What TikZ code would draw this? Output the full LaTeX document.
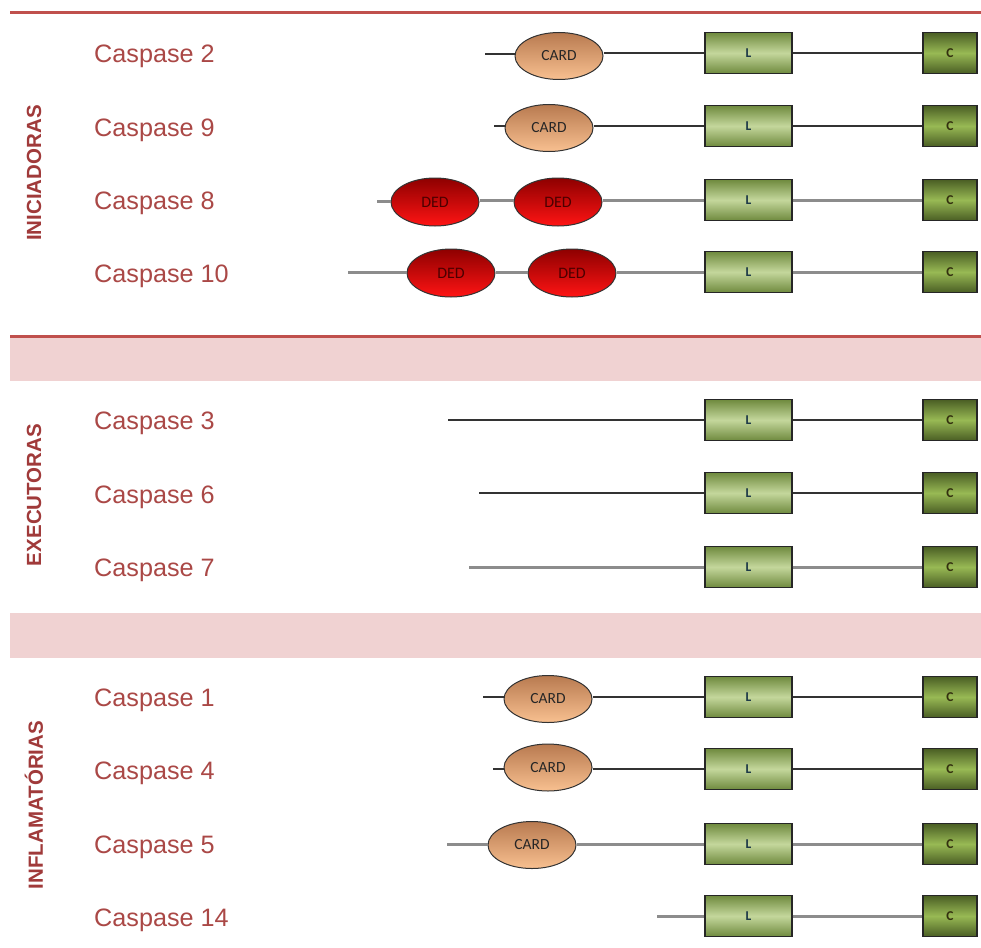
\documentclass[tikz,border=0pt]{standalone}
\usepackage{fontspec}
\setmainfont{Liberation Sans}
\newfontfamily\boxfont{Carlito}
\usetikzlibrary{shapes.geometric}
\definecolor{redline}{HTML}{C0504D}
\definecolor{pinkband}{HTML}{F0D2D2}
\definecolor{labelcol}{HTML}{AA4846}
\definecolor{sidecol}{HTML}{A03A3A}
\definecolor{Lmid}{HTML}{C4D79C}
\definecolor{Ledge}{HTML}{6F8A3E}
\definecolor{Cmid}{HTML}{98B954}
\definecolor{Cedge}{HTML}{4A5E24}
\definecolor{cardtop}{HTML}{B87A50}
\definecolor{cardbot}{HTML}{F8C090}
\definecolor{dedtop}{HTML}{8E0000}
\definecolor{dedbot}{HTML}{FF1414}
\definecolor{Ltext}{HTML}{1E3A48}
\definecolor{Ctext}{HTML}{33300F}
\tikzset{
  x=1pt, y=-1pt,
  caslabel/.style={anchor=west, text=labelcol, font=\fontsize{25.2}{28}\selectfont, inner sep=0pt},
  sidelabel/.style={rotate=90, text=sidecol, font=\fontsize{20.5}{24}\selectfont\bfseries, inner sep=0pt},
  Lbox/.style={draw=black!85, line width=1.2pt, minimum width=87pt, minimum height=41pt, inner sep=0pt,
    top color=Ledge, bottom color=Ledge, middle color=Lmid, text=Ltext,
    font=\boxfont\bfseries\fontsize{13.5}{15}\selectfont},
  Cbox/.style={draw=black!85, line width=1.2pt, minimum width=54pt, minimum height=41pt, inner sep=0pt,
    top color=Cedge, bottom color=Cedge, middle color=Cmid, text=Ctext,
    font=\boxfont\bfseries\fontsize{13.5}{15}\selectfont},
  cardell/.style={ellipse, draw=black!80, line width=1pt, minimum width=88pt, minimum height=47pt, inner sep=0pt,
    top color=cardtop, bottom color=cardbot, text=black!85, font=\boxfont\fontsize{15.5}{17}\selectfont},
  dedell/.style={ellipse, draw=black!80, line width=1pt, minimum width=88pt, minimum height=48pt, inner sep=0pt,
    top color=dedtop, bottom color=dedbot, text=black!70!red, font=\boxfont\fontsize{16}{18}\selectfont},
  thinline/.style={draw=black!80, line width=1.6pt},
  thickline/.style={draw=black!45, line width=3pt},
}
\begin{document}
\begin{tikzpicture}
\useasboundingbox (0,0) rectangle (981,947);
% separators
\draw[redline, line width=3pt] (10,13) -- (981,13);
\fill[pinkband] (10,337) rectangle (981,381);
\draw[redline, line width=3pt] (10,336) -- (981,336);
\fill[pinkband] (10,613) rectangle (981,658);
% side labels
\node[sidelabel] (gIni) at (34,173) {INICIADORAS};
\node[sidelabel] (gExe) at (34,495) {EXECUTORAS};
\node[sidelabel] (gInf) at (34,805) {INFLAMATÓRIAS};
% names
\node[caslabel] (n2) at (94,56) {Caspase 2};
\node[caslabel] (n9) at (94,130) {Caspase 9};
\node[caslabel] (n8) at (94,203) {Caspase 8};
\node[caslabel] (n10) at (94,276) {Caspase 10};
\node[caslabel] (n3) at (94,423) {Caspase 3};
\node[caslabel] (n6) at (94,497) {Caspase 6};
\node[caslabel] (n7) at (94,570) {Caspase 7};
\node[caslabel] (n1) at (94,700) {Caspase 1};
\node[caslabel] (n4) at (94,773) {Caspase 4};
\node[caslabel] (n5) at (94,847) {Caspase 5};
\node[caslabel] (n14) at (94,920) {Caspase 14};
% Caspase 2
\coordinate (s2) at (485,54);
\node[cardell] (a2) at (559,56) {CARD};
\node[Lbox] (l2) at (748.5,53) {L};
\node[Cbox] (c2) at (950,53) {C};
\draw[thinline] (s2) -- (a2.west |- s2);
\draw[thinline] (a2.east |- l2) -- (l2.west);
\draw[thinline] (l2.east) -- (c2.west);
% Caspase 9
\coordinate (s9) at (494,126);
\node[cardell] (a9) at (549,128) {CARD};
\node[Lbox] (l9) at (748.5,126) {L};
\node[Cbox] (c9) at (950,126) {C};
\draw[thinline] (s9) -- (a9.west |- s9);
\draw[thinline] (a9.east |- l9) -- (l9.west);
\draw[thinline] (l9.east) -- (c9.west);
% Caspase 8
\coordinate (s8) at (377,201);
\node[dedell] (d8a) at (435,202) {DED};
\node[dedell] (d8b) at (558,202) {DED};
\node[Lbox] (l8) at (748.5,200) {L};
\node[Cbox] (c8) at (950,200) {C};
\draw[thickline] (s8) -- (d8a.west |- s8);
\draw[thickline] (d8a.east |- l8) -- (d8b.west |- l8);
\draw[thickline] (d8b.east |- l8) -- (l8.west);
\draw[thickline] (l8.east) -- (c8.west);
% Caspase 10
\coordinate (s10) at (348,272);
\node[dedell] (d10a) at (451,273) {DED};
\node[dedell] (d10b) at (572,273) {DED};
\node[Lbox] (l10) at (748.5,272) {L};
\node[Cbox] (c10) at (950,272) {C};
\draw[thickline] (s10) -- (d10a.west |- s10);
\draw[thickline] (d10a.east |- l10) -- (d10b.west |- l10);
\draw[thickline] (d10b.east |- l10) -- (l10.west);
\draw[thickline] (l10.east) -- (c10.west);
% Caspase 3
\coordinate (s3) at (448,420);
\node[Lbox] (l3) at (748.5,420) {L};
\node[Cbox] (c3) at (950,420) {C};
\draw[thinline] (s3) -- (l3.west);
\draw[thinline] (l3.east) -- (c3.west);
% Caspase 6
\coordinate (s6) at (479,493);
\node[Lbox] (l6) at (748.5,493) {L};
\node[Cbox] (c6) at (950,493) {C};
\draw[thinline] (s6) -- (l6.west);
\draw[thinline] (l6.east) -- (c6.west);
% Caspase 7
\coordinate (s7) at (469,567);
\node[Lbox] (l7) at (748.5,567) {L};
\node[Cbox] (c7) at (950,567) {C};
\draw[thickline] (s7) -- (l7.west);
\draw[thickline] (l7.east) -- (c7.west);
% Caspase 1
\coordinate (s1) at (483,697);
\node[cardell] (a1) at (548,699) {CARD};
\node[Lbox] (l1) at (748.5,697) {L};
\node[Cbox] (c1) at (950,697) {C};
\draw[thinline] (s1) -- (a1.west |- s1);
\draw[thinline] (a1.east |- l1) -- (l1.west);
\draw[thinline] (l1.east) -- (c1.west);
% Caspase 4
\coordinate (s4) at (493,769);
\node[cardell] (a4) at (548,767.5) {CARD};
\node[Lbox] (l4) at (748.5,769) {L};
\node[Cbox] (c4) at (950,769) {C};
\draw[thinline] (s4) -- (a4.west |- s4);
\draw[thinline] (a4.east |- l4) -- (l4.west);
\draw[thinline] (l4.east) -- (c4.west);
% Caspase 5
\coordinate (s5) at (447,844);
\node[cardell] (a5) at (532,845) {CARD};
\node[Lbox] (l5) at (748.5,844) {L};
\node[Cbox] (c5) at (950,844) {C};
\draw[thickline] (s5) -- (a5.west |- s5);
\draw[thickline] (a5.east |- l5) -- (l5.west);
\draw[thickline] (l5.east) -- (c5.west);
% Caspase 14
\coordinate (s14) at (657,916);
\node[Lbox] (l14) at (748.5,916) {L};
\node[Cbox] (c14) at (950,916) {C};
\draw[thickline] (s14) -- (l14.west);
\draw[thickline] (l14.east) -- (c14.west);
\end{tikzpicture}
\end{document}
